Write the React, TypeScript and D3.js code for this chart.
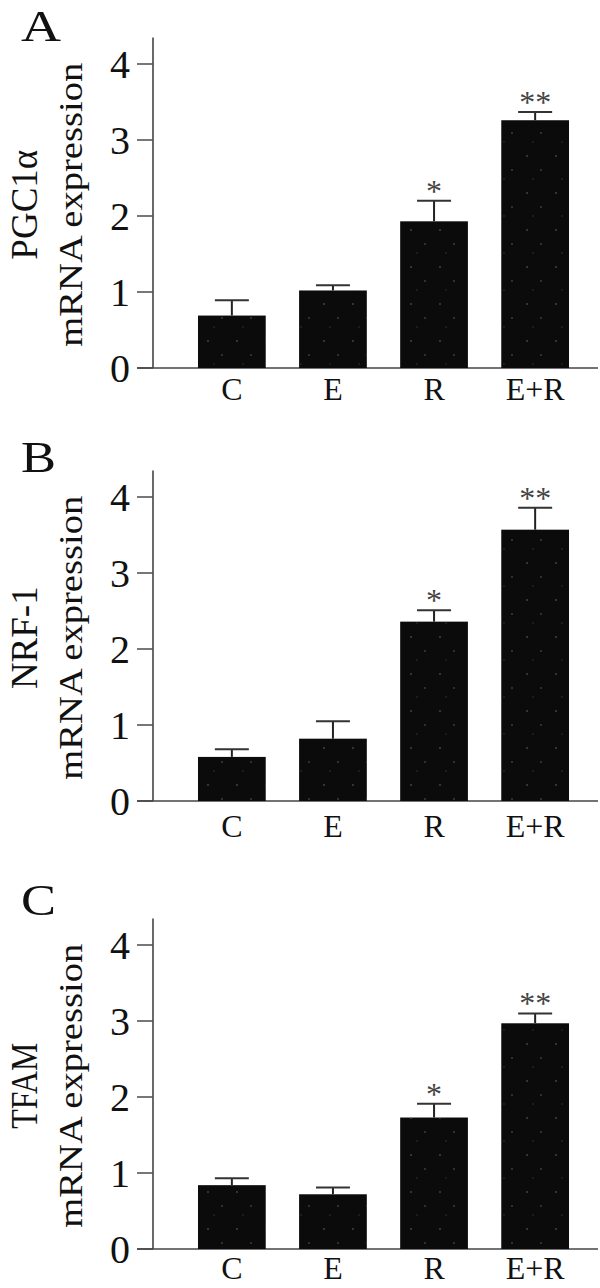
import * as d3 from "d3";

// categories and values
const categories = ["C", "E", "R", "E+R"];
const yTicks = [0, 1, 2, 3, 4];
const stars = ["", "", "*", "**"];

const pgc1aMeans = [0.69, 1.02, 1.93, 3.26];
const pgc1aErrors = [0.2, 0.07, 0.27, 0.11];

const nrf1Means = [0.58, 0.82, 2.36, 3.57];
const nrf1Errors = [0.1, 0.23, 0.15, 0.29];

const tfamMeans = [0.84, 0.72, 1.73, 2.97];
const tfamErrors = [0.09, 0.09, 0.18, 0.13];

const font = "'Liberation Serif', 'Times New Roman', serif";
const axisX = 153;

// shared x scale for the three panels
const xScale = d3
  .scaleBand<string>()
  .domain(categories)
  .range([axisX, 614])
  .paddingInner(0.33)
  .paddingOuter(0.445);

type PanelProps = {
  letter: string;
  gene: string;
  geneLength?: number;
  means: number[];
  errors: number[];
  baseline: number;
  labelY: number;
  letterY: number;
};

const Panel = ({ letter, gene, geneLength, means, errors, baseline, labelY, letterY }: PanelProps) => {
  const yScale = d3.scaleLinear().domain([0, 4]).range([baseline, baseline - 304]);
  const top = yScale(4.35);
  const midY = (top + baseline) / 2 + 2;
  const bw = xScale.bandwidth();

  return (
    <g>
      {/* panel letter */}
      <text
        x={21}
        y={letterY}
        fontFamily={font}
        fontSize={44}
        fill="#111"
        textLength={letter === "A" ? 40 : 35}
        lengthAdjust="spacingAndGlyphs"
      >
        {letter}
      </text>

      {/* y axis title, two lines */}
      <text
        transform={`translate(37,${midY}) rotate(-90)`}
        textAnchor="middle"
        fontFamily={font}
        fontSize={37}
        fill="#111"
        textLength={geneLength}
        lengthAdjust={geneLength ? "spacingAndGlyphs" : undefined}
      >
        {gene}
      </text>
      <text
        transform={`translate(82,${midY}) rotate(-90)`}
        textAnchor="middle"
        fontFamily={font}
        fontSize={33}
        fill="#111"
        textLength={284}
        lengthAdjust="spacingAndGlyphs"
      >
        mRNA expression
      </text>

      {/* y axis */}
      <line x1={axisX} x2={axisX} y1={top} y2={baseline} stroke="#444" strokeWidth={1.6} />
      {yTicks.map((t) => (
        <g key={t}>
          <line x1={137} x2={axisX} y1={yScale(t)} y2={yScale(t)} stroke="#555" strokeWidth={1.6} />
          <text
            x={130}
            y={yScale(t)}
            dy="0.35em"
            textAnchor="end"
            fontFamily={font}
            fontSize={40}
            fill="#111"
          >
            {t}
          </text>
        </g>
      ))}
      {/* baseline */}
      <line x1={137} x2={598} y1={baseline} y2={baseline} stroke="#444" strokeWidth={1.6} />

      {/* bars */}
      {categories.map((c, i) => {
        const x = xScale(c) as number;
        const cx = x + bw / 2;
        const yTop = yScale(means[i]);
        const yErr = yScale(means[i] + errors[i]);
        return (
          <g key={c}>
            <rect x={x} y={yTop} width={bw} height={baseline - yTop} fill="#0b0b0b" />
            <rect x={x} y={yTop} width={bw} height={baseline - yTop} fill="url(#speckle)" />
            <line x1={cx} x2={cx} y1={yTop} y2={yErr} stroke="#222" strokeWidth={2} />
            <line x1={cx - 17} x2={cx + 17} y1={yErr} y2={yErr} stroke="#333" strokeWidth={2} />
            {stars[i] && (
              <text
                x={cx}
                y={yErr + 1}
                textAnchor="middle"
                fontFamily={font}
                fontSize={32}
                fill="#444"
              >
                {stars[i]}
              </text>
            )}
            <text
              x={cx}
              y={labelY}
              textAnchor="middle"
              fontFamily={font}
              fontSize={32}
              fill="#111"
            >
              {c}
            </text>
          </g>
        );
      })}
    </g>
  );
};

export default function App() {
  return (
    <svg
      width={600}
      height={1288}
      style={{ position: "absolute", left: 0, top: 0, background: "#fff" }}
    >
      <defs>
        <pattern id="speckle" width={29} height={37} patternUnits="userSpaceOnUse">
          <circle cx={5} cy={8} r={1} fill="#666" opacity={0.6} />
          <circle cx={19} cy={22} r={0.9} fill="#777" opacity={0.5} />
          <circle cx={11} cy={31} r={0.8} fill="#555" opacity={0.5} />
        </pattern>
      </defs>
      <Panel
        letter="A"
        gene="PGC1α"
        means={pgc1aMeans}
        errors={pgc1aErrors}
        baseline={368}
        labelY={400}
        letterY={41}
      />
      <Panel
        letter="B"
        gene="NRF-1"
        means={nrf1Means}
        errors={nrf1Errors}
        baseline={801}
        labelY={837}
        letterY={472}
      />
      <Panel
        letter="C"
        gene="TFAM"
        geneLength={86}
        means={tfamMeans}
        errors={tfamErrors}
        baseline={1249}
        labelY={1279}
        letterY={915}
      />
    </svg>
  );
}
